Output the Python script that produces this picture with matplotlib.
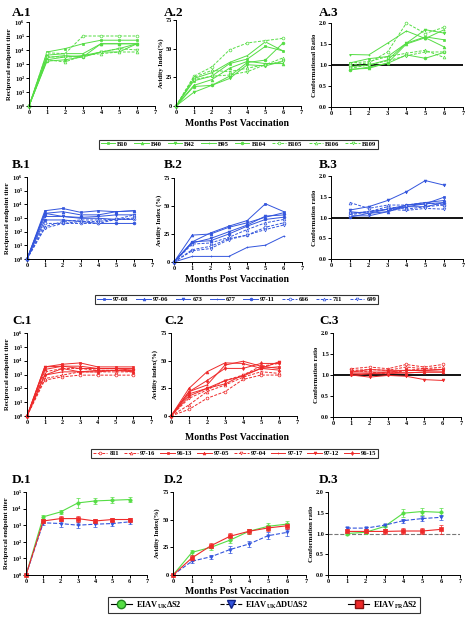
import matplotlib
matplotlib.use('Agg')
import matplotlib.pyplot as plt
import numpy as np
from matplotlib.lines import Line2D
from matplotlib.ticker import FuncFormatter, NullLocator

plt.rcParams['font.family'] = ['Liberation Serif', 'DejaVu Serif']
plt.rcParams['font.weight'] = 'bold'
plt.rcParams['mathtext.fontset'] = 'custom'
plt.rcParams['mathtext.rm'] = 'Liberation Serif:bold'
plt.rcParams['mathtext.it'] = 'Liberation Serif:bold'
plt.rcParams['mathtext.bf'] = 'Liberation Serif:bold'
plt.rcParams['axes.linewidth'] = 0.7

# ---------------- data ----------------
months = [0, 1, 2, 3, 4, 5, 6]
months_cr = [1, 2, 3, 4, 5, 6]

a_names = ['B10', 'B40', 'B42', 'B95', 'B104', 'B105', 'B106', 'B109']
a_titer = [
    [1, 7200, 12600, 28000, 50000, 50000, 50000],
    [1, 4300, 5500, 5500, 28000, 28000, 28000],
    [1, 2000, 3200, 4000, 7200, 12600, 28000],
    [1, 2900, 4000, 3200, 7200, 7200, 28000],
    [1, 1600, 2000, 3200, 28000, 28000, 28000],
    [1, 6300, 5500, 100000, 100000, 100000, 100000],
    [1, 2000, 1400, 4000, 5500, 7200, 7200],
    [1, 3200, 3200, 3200, 7200, 12600, 10000],
]
a_avidity = [
    [0, 22, 26, 37, 41, 52, 48],
    [0, 18, 23, 33, 39, 37, 37],
    [0, 12, 18, 24, 36, 35, 39],
    [0, 24, 29, 38, 44, 56, 48],
    [0, 17, 18, 26, 38, 40, 55],
    [0, 26, 34, 49, 55, 57, 59],
    [0, 25, 31, 30, 33, 36, 42],
    [0, 23, 26, 27, 30, 36, 39],
]
a_conf = [
    [1.05, 1.15, 1.20, 1.52, 1.67, 1.60],
    [0.90, 0.92, 1.05, 1.50, 1.65, 1.43],
    [0.96, 1.00, 1.12, 1.52, 1.84, 1.76],
    [1.25, 1.24, 1.52, 1.81, 1.63, 1.84],
    [0.88, 0.95, 1.04, 1.24, 1.16, 1.30],
    [1.00, 1.05, 1.31, 2.00, 1.75, 1.90],
    [1.05, 1.08, 1.20, 1.28, 1.35, 1.18],
    [0.92, 1.00, 1.10, 1.22, 1.31, 1.31],
]

b_names = ['97-08', '97-06', '673', '677', '97-11', '666', '711', '699']
b_titer = [
    [1, 3400, 5000, 2600, 3400, 2900, 3400],
    [1, 2200, 2900, 1700, 1700, 2900, 3400],
    [1, 1300, 1300, 1100, 1300, 1700, 1700],
    [1, 2200, 1300, 950, 950, 800, 800],
    [1, 720, 720, 550, 400, 400, 400],
    [1, 400, 400, 400, 400, 800, 800],
    [1, 230, 550, 720, 720, 800, 1700],
    [1, 180, 400, 550, 550, 800, 1000],
]
b_avidity = [
    [0, 18, 26, 32, 37, 52, 45],
    [0, 24, 25, 31, 35, 40, 44],
    [0, 17, 21, 27, 33, 41, 42],
    [0, 5, 5, 5, 13, 15, 23],
    [0, 18, 19, 25, 32, 38, 40],
    [0, 11, 14, 21, 24, 31, 35],
    [0, 16, 17, 22, 29, 35, 38],
    [0, 10, 12, 20, 24, 29, 33],
]
b_conf = [
    [1.10, 1.14, 1.20, 1.26, 1.33, 1.49],
    [1.14, 1.10, 1.14, 1.30, 1.36, 1.41],
    [1.18, 1.26, 1.41, 1.62, 1.89, 1.78],
    [1.04, 1.04, 1.14, 1.26, 1.26, 1.36],
    [1.01, 1.10, 1.20, 1.30, 1.33, 1.36],
    [1.06, 1.14, 1.26, 1.20, 1.26, 1.30],
    [1.36, 1.22, 1.30, 1.30, 1.36, 1.30],
    [1.10, 1.14, 1.20, 1.17, 1.22, 1.20],
]

c_names = ['811', '97-16', '96-13', '97-05', '97-04', '97-17', '97-12', '96-15']
c_titer = [
    [1, 390, 680, 900, 900, 900, 900],
    [1, 510, 900, 1550, 1550, 1550, 1550],
    [1, 3550, 5500, 6900, 3550, 3550, 3550],
    [1, 2300, 4000, 4000, 2700, 2700, 2700],
    [1, 1550, 2700, 2700, 2000, 2000, 2000],
    [1, 900, 1550, 1550, 2000, 2000, 2000],
    [1, 3550, 4000, 2700, 2700, 2700, 2000],
    [1, 900, 2700, 1550, 1550, 2000, 1550],
]
c_avidity = [
    [0, 6, 16, 22, 33, 37, 37],
    [0, 10, 22, 28, 35, 40, 38.5],
    [0, 20, 25, 29, 37, 43, 44.5],
    [0, 25, 40, 48, 47.5, 43, 41.5],
    [0, 16, 23.5, 32, 37, 45, 47.5],
    [0, 22, 28, 46, 49.5, 45, 43],
    [0, 18, 25, 32, 36, 43, 49],
    [0, 22, 32, 43, 43, 47.5, 47.5],
]
c_conf = [
    [1.15, 1.19, 1.15, 1.25, 1.19, 1.25],
    [1.11, 1.13, 1.11, 1.19, 1.15, 1.19],
    [1.07, 1.07, 1.07, 1.11, 1.11, 1.13],
    [1.03, 1.03, 1.03, 1.05, 1.07, 1.07],
    [1.11, 1.07, 1.03, 1.11, 1.15, 1.13],
    [0.99, 1.03, 1.07, 1.05, 1.07, 1.07],
    [1.00, 0.95, 0.99, 0.97, 0.89, 0.87],
    [1.07, 1.13, 1.11, 1.11, 1.11, 1.13],
]

d_names = ['EIAV$_{\\mathregular{UK}}$\u0394S2', 'EIAV$_{\\mathregular{UK}}$\u0394DU\u0394S2',
           'EIAV$_{\\mathregular{FR}}$\u0394S2']
d_titer_green = [1, 3200, 6300, 22000, 29000, 32000, 35000]
d_titer_green_fold = [1, 1.3, 1.4, 1.9, 1.5, 1.5, 1.4]
d_titer_blue = [1, 1400, 1260, 1000, 1150, 1260, 1600]
d_titer_blue_fold = [1, 1.3, 1.6, 1.5, 1.4, 1.4, 1.3]
d_titer_red = [1, 1800, 2500, 2500, 1800, 2200, 2200]
d_titer_red_fold = [1, 1.3, 1.4, 1.5, 1.3, 1.3, 1.3]
d_avid_green = [0, 20.5, 25, 31.5, 39.5, 44, 46]
d_avid_green_err = [0, 2, 2, 3, 2.5, 3, 3]
d_avid_blue = [0, 12.5, 16.5, 23, 28, 35.5, 38.5]
d_avid_blue_err = [0, 2, 2, 3, 2.5, 3, 3]
d_avid_red = [0, 15.5, 26.5, 35, 39.5, 42.5, 44.5]
d_avid_red_err = [0, 2.5, 2, 3, 2, 2.5, 2.5]
d_conf_green = [1.00, 1.03, 1.17, 1.49, 1.53, 1.51]
d_conf_green_err = [0.04, 0.04, 0.05, 0.09, 0.08, 0.10]
d_conf_blue = [1.13, 1.13, 1.20, 1.31, 1.36, 1.39]
d_conf_blue_err = [0.03, 0.03, 0.04, 0.05, 0.06, 0.06]
d_conf_red = [1.05, 1.05, 1.05, 1.06, 1.06, 1.10]
d_conf_red_err = [0.04, 0.04, 0.05, 0.07, 0.07, 0.10]

# ---------------- styles ----------------
GREEN = '#55dd44'
BLUE = '#3355dd'
RED = '#ee2a2a'
W, H = 468, 619

a_style = [('-', 's', True), ('-', '^', True), ('-', 'v', True), ('-', '+', True),
           ('-', 'o', True), ('--', 'o', False), ('--', '^', False), ('--', 'v', False)]
b_style = [('-', 's', True), ('-', '^', True), ('-', 'v', True), ('-', '+', True),
           ('-', 'o', True), ('--', 'o', False), ('--', '^', False), ('--', 'v', False)]
c_style = [('--', 'o', False), ('--', '^', False), ('-', 's', True), ('-', '^', True),
           ('--', 'v', False), ('-', '+', True), ('-', 'v', True), ('-', 'd', True)]

fig = plt.figure(figsize=(W / 100, H / 100), dpi=100)


def add_ax(x0, x1, y0, y1):
    return fig.add_axes([x0 / W, 1 - y1 / H, (x1 - x0) / W, (y1 - y0) / H])


def log_fmt(v, pos):
    return '$10^{%d}$' % int(round(np.log10(v)))


def style(ax, kind, ylabel, top=6):
    for s in ('top', 'right'):
        ax.spines[s].set_visible(False)
    ax.set_xlim(0, 7)
    ax.set_xticks(range(8))
    if kind == 'titer':
        ax.set_yscale('log')
        ax.set_ylim(1, 10 ** top)
        ax.set_yticks([10 ** i for i in range(top + 1)])
        ax.yaxis.set_major_formatter(FuncFormatter(log_fmt))
        ax.yaxis.set_minor_locator(NullLocator())
    elif kind == 'avid':
        ax.set_ylim(0, 75)
        ax.set_yticks([0, 25, 50, 75])
    else:
        ax.set_ylim(0, 2.0)
        ax.set_yticks([0, 0.5, 1.0, 1.5, 2.0])
        ax.yaxis.set_major_formatter(FuncFormatter(lambda v, p: '%.1f' % v))
    ax.tick_params(labelsize=4.5, length=2, width=0.7, pad=1)
    ax.set_ylabel(ylabel, fontsize=4.8, labelpad=1.5, fontweight='bold')


def plot_group(ax, x, data, styles, color):
    handles = []
    for ys, (ls, mk, filled) in zip(data, styles):
        h, = ax.plot(x, ys, ls=ls, marker=mk, color=color, lw=0.7, ms=2.0, mew=0.5,
                     mfc=color if filled else 'white', dashes=(3, 1.5) if ls == '--' else (None, None),
                     clip_on=False)
        handles.append(h)
    return handles


groups = [
    ('A', a_names, a_titer, a_avidity, a_conf, a_style, GREEN,
     [(29, 155, 22, 106), (176, 301, 20, 106), (331, 463, 23, 107)],
     ['Reciprocal endpoint titer', 'Avidity Index(%)', 'Conformational Ratio'],
     124, (99, 378, 138, 150)),
    ('B', b_names, b_titer, b_avidity, b_conf, b_style, BLUE,
     [(27, 152, 177, 259), (174, 302, 178, 262), (331, 463, 176, 259)],
     ['Reciprocal endpoint titer', 'Avidity Index (%)', 'Conformation ratio'],
     279, (95, 378, 295, 304)),
    ('C', c_names, c_titer, c_avidity, c_conf, c_style, RED,
     [(27, 151, 333, 416), (171, 297, 333, 416), (333, 461, 333, 417)],
     ['Reciprocal endpoint titer', 'Avidity index(%)', 'Conformation ratio'],
     437, (91, 378, 446, 460)),
]
title_y = {'A': 13, 'B': 165, 'C': 321, 'D': 480}
title_x = [12, 164, 319]

for key, names, titer, avid, conf, stl, col, boxes, ylabels, my, lg in groups:
    ax1 = add_ax(*boxes[0])
    handles = plot_group(ax1, months, titer, stl, col)
    style(ax1, 'titer', ylabels[0])
    ax2 = add_ax(*boxes[1])
    plot_group(ax2, months, avid, stl, col)
    style(ax2, 'avid', ylabels[1])
    ax3 = add_ax(*boxes[2])
    ax3.axhline(1.0, color='black', lw=1.3, zorder=1)
    plot_group(ax3, months_cr, conf, stl, col)
    style(ax3, 'conf', ylabels[2])
    for i, tx in enumerate(title_x):
        fig.text(tx / W, 1 - title_y[key] / H, '%s.%d' % (key, i + 1), fontsize=9.5,
                 fontweight='bold', ha='left', va='center')
    fig.text(237 / W, 1 - my / H, 'Months Post Vaccination', fontsize=7,
             fontweight='bold', ha='center', va='center')
    x0, x1, y0, y1 = lg
    fig.legend(handles, names, loc='center', ncol=8, mode='expand',
               bbox_to_anchor=(x0 / W, 1 - y1 / H, (x1 - x0) / W, (y1 - y0) / H),
               fontsize=4.8, frameon=True, fancybox=False, edgecolor='black',
               handlelength=2.2, handletextpad=0.3, columnspacing=0.5, borderpad=0.25,
               borderaxespad=0).get_frame().set_linewidth(0.8)

# ---------------- D row ----------------
eb_kw = dict(lw=0.8, ms=2.4, mew=0.5, capsize=1.2, elinewidth=0.5, capthick=0.5, clip_on=False)
axd1 = add_ax(26, 147, 492, 575)
for ys, fold, col, mk, ls in [(d_titer_green, d_titer_green_fold, GREEN, 'o', '-'),
                              (d_titer_blue, d_titer_blue_fold, BLUE, 'v', '--'),
                              (d_titer_red, d_titer_red_fold, RED, 's', '-')]:
    ya = np.array(ys, float)
    fa = np.array(fold, float)
    yerr = [ya - ya / fa, ya * fa - ya]
    axd1.errorbar(months, ys, yerr=yerr, color=col, marker=mk, ls=ls, **eb_kw)
style(axd1, 'titer', 'Reciprocal endpoint titer', top=5)

axd2 = add_ax(173, 306, 492, 575)
for ys, er, col, mk, ls in [(d_avid_green, d_avid_green_err, GREEN, 'o', '-'),
                            (d_avid_blue, d_avid_blue_err, BLUE, 'v', '--'),
                            (d_avid_red, d_avid_red_err, RED, 's', '-')]:
    axd2.errorbar(months, ys, yerr=er, color=col, marker=mk, ls=ls, **eb_kw)
style(axd2, 'avid', 'Avidity Index(%)')

axd3 = add_ax(328, 460, 492, 575)
axd3.axhline(1.0, color='#777777', lw=0.8, ls='--', zorder=1)
for ys, er, col, mk, ls in [(d_conf_green, d_conf_green_err, GREEN, 'o', '-'),
                            (d_conf_blue, d_conf_blue_err, BLUE, 'v', '--'),
                            (d_conf_red, d_conf_red_err, RED, 's', '-')]:
    axd3.errorbar(months_cr, ys, yerr=er, color=col, marker=mk, ls=ls, **eb_kw)
style(axd3, 'conf', 'Conformation ratio')

for i, tx in enumerate(title_x):
    fig.text(tx / W, 1 - title_y['D'] / H, 'D.%d' % (i + 1), fontsize=9.5,
             fontweight='bold', ha='left', va='center')
fig.text(237 / W, 1 - 591 / H, 'Months Post Vaccination', fontsize=7,
         fontweight='bold', ha='center', va='center')

d_handles = [Line2D([], [], color='black', ls='-', lw=0.8, marker='o', ms=6, mfc=GREEN, mec='#228822'),
             Line2D([], [], color='black', ls='--', lw=0.8, marker='v', ms=6, mfc=BLUE, mec='#112288'),
             Line2D([], [], color='black', ls='-', lw=0.8, marker='s', ms=6, mfc=RED, mec='#881111')]
fig.legend(d_handles, d_names, loc='center', ncol=3, mode='expand',
           bbox_to_anchor=(108 / W, 1 - 614 / H, 312 / W, 18 / H),
           fontsize=6, frameon=True, fancybox=False, edgecolor='black',
           handlelength=2.6, handletextpad=0.4, columnspacing=1.0, borderpad=0.3,
           borderaxespad=0).get_frame().set_linewidth(0.8)

fig.savefig('out.png', dpi=100)
